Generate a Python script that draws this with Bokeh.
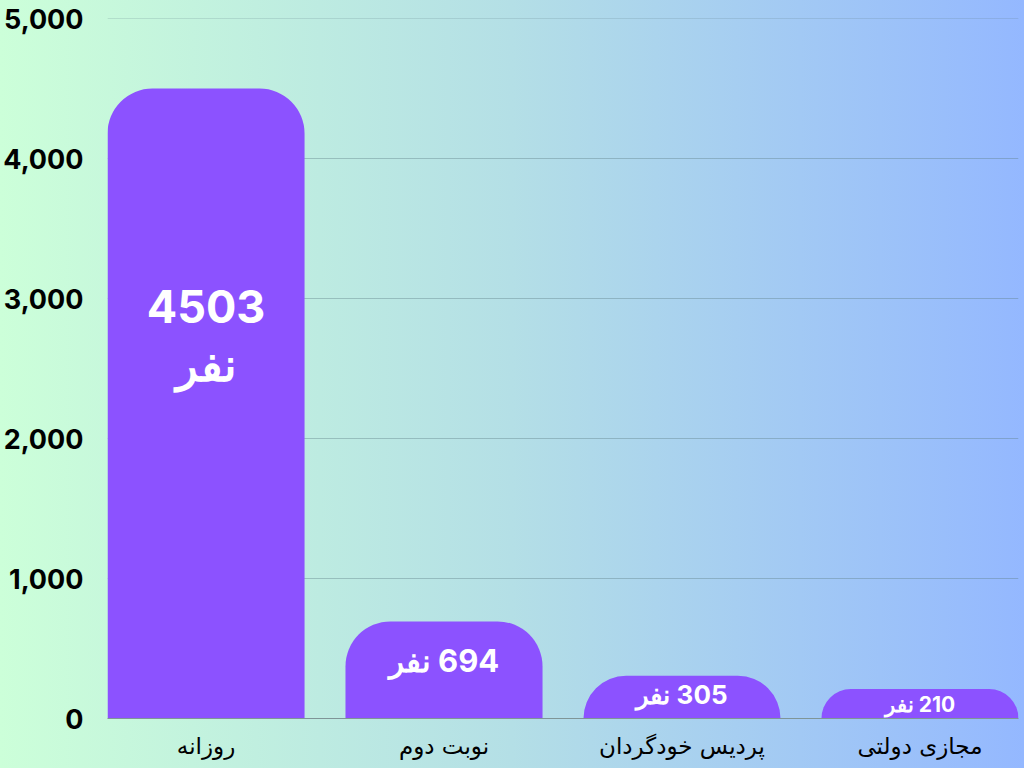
from bokeh.plotting import figure
from bokeh.models import ColumnDataSource, Range1d, FixedTicker, NumeralTickFormatter
from bokeh.core.properties import value
from bokeh.embed import file_html
from bokeh.resources import INLINE

# ── Data ───────────────────────────────────────────────
categories = ["روزانه", "نوبت دوم", "پردیس خودگردان", "مجازی دولتی"]
counts = [4503, 694, 305, 210]
unit = "نفر"
y_ticks = [0, 1000, 2000, 3000, 4000, 5000]

# ── Styles ─────────────────────────────────────────────
BAR_COLOR = "#8c52ff"
GRID_COLOR = "#5f7f86"
FONT = "Inter"
label_sizes = ["45px", "31px", "26px", "21px"]
label_offsets = [247, 39, 19, 15]   # px below bar top
BAR_WIDTH = 0.828

xs = list(range(len(categories)))
labels = []
for c in counts:
    if c > 2000:
        labels.append(f"{c}\n{unit}")
    else:
        labels.append(f"\u200f{c} {unit}")

src = ColumnDataSource(dict(
    x=xs, top=counts, label=labels, size=label_sizes, dy=label_offsets,
))

p = figure(
    width=1024, height=768,
    x_range=Range1d(-BAR_WIDTH / 2, len(categories) - 1 + BAR_WIDTH / 2),
    y_range=Range1d(0, 5003),
    output_backend="svg", toolbar_location=None, tools="",
    min_border_left=107, min_border_right=6, min_border_top=18, min_border_bottom=50,
)
p.styles = {"background": "linear-gradient(90deg, #ccffd9 0%, #b4dfe6 50%, #94b8ff 100%)"}
p.background_fill_alpha = 0
p.border_fill_alpha = 0
p.outline_line_color = None

p.vbar(x="x", top="top", width=BAR_WIDTH, bottom=0, source=src,
       fill_color=BAR_COLOR, line_color=None, border_radius=(45, 45, 0, 0))

p.text(x="x", y="top", text="label", source=src, y_offset="dy",
       text_font=value(FONT), text_font_style="bold", text_font_size="size",
       text_color="white", text_align="center", text_baseline="middle",
       text_line_height=1.05)

# grid
p.xgrid.grid_line_color = None
p.ygrid.ticker = FixedTicker(ticks=y_ticks)
p.ygrid.grid_line_color = GRID_COLOR
p.ygrid.grid_line_alpha = 0.4
p.ygrid.grid_line_width = 1

# y axis
p.yaxis.ticker = FixedTicker(ticks=y_ticks)
p.yaxis.formatter = NumeralTickFormatter(format="0,0")
p.yaxis.axis_line_color = None
p.yaxis.major_tick_line_color = None
p.yaxis.minor_tick_line_color = None
p.yaxis.major_tick_out = 0
p.yaxis.major_label_standoff = 24
p.yaxis.major_label_text_font = FONT
p.yaxis.major_label_text_font_style = "bold"
p.yaxis.major_label_text_font_size = "27px"
p.yaxis.major_label_text_color = "black"

# x axis
p.xaxis.ticker = FixedTicker(ticks=xs)
p.xaxis.major_label_overrides = {i: c for i, c in zip(xs, categories)}
p.xaxis.axis_line_color = "#7f9597"
p.xaxis.major_tick_line_color = None
p.xaxis.minor_tick_line_color = None
p.xaxis.major_tick_out = 0
p.xaxis.major_label_standoff = 14
p.xaxis.major_label_text_font = "DejaVu Sans"
p.xaxis.major_label_text_font_size = "23px"
p.xaxis.major_label_text_color = "black"

open("out.html", "w").write(file_html(p, INLINE))
